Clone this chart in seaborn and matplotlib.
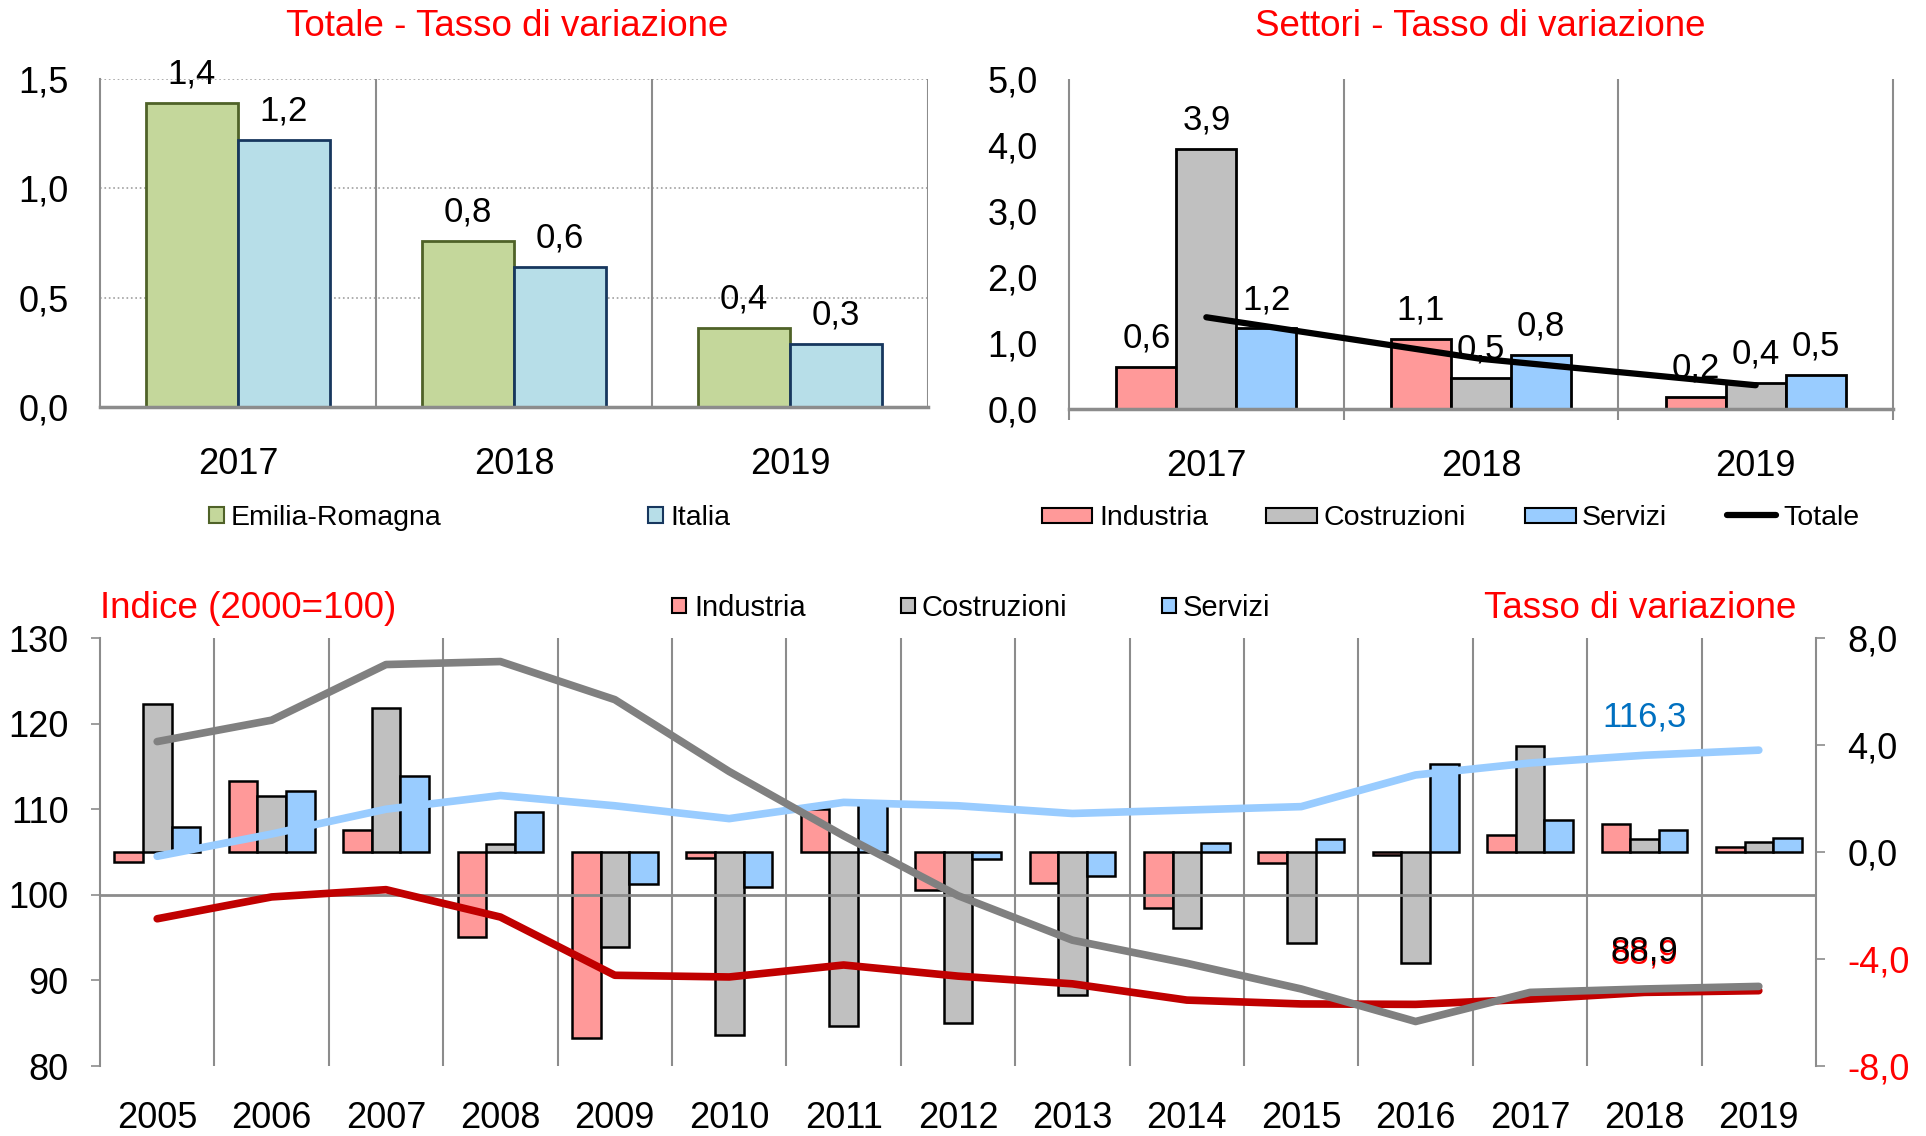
import numpy as np
import pandas as pd
import matplotlib
matplotlib.use('Agg')
import matplotlib.pyplot as plt
from matplotlib.patches import Rectangle
from matplotlib.lines import Line2D
from matplotlib.ticker import FuncFormatter
import seaborn as sns

# ---- dati ----
anni_top = ['2017', '2018', '2019']
totale_er = [1.39, 0.76, 0.36]
totale_it = [1.22, 0.64, 0.29]

sett_industria = [0.64, 1.06, 0.18]
sett_costruzioni = [3.94, 0.47, 0.39]
sett_servizi = [1.22, 0.82, 0.52]

anni = ['2005', '2006', '2007', '2008', '2009', '2010', '2011', '2012',
        '2013', '2014', '2015', '2016', '2017', '2018', '2019']
var_industria = [-0.37, 2.65, 0.83, -3.17, -6.97, -0.24, 1.6, -1.41,
                 -1.17, -2.1, -0.4, -0.1, 0.65, 1.05, 0.2]
var_costruzioni = [5.55, 2.1, 5.4, 0.29, -3.55, -6.84, -6.5, -6.41,
                   -5.33, -2.85, -3.41, -4.15, 3.95, 0.47, 0.37]
var_servizi = [0.93, 2.28, 2.83, 1.49, -1.2, -1.31, 1.8, -0.27,
               -0.88, 0.35, 0.47, 3.29, 1.21, 0.83, 0.53]
ind_industria = [97.2, 99.75, 100.6, 97.4, 90.6, 90.4, 91.8, 90.5,
                 89.6, 87.7, 87.25, 87.2, 87.8, 88.6, 88.8]
ind_costruzioni = [117.9, 120.4, 126.9, 127.25, 122.8, 114.4, 106.9, 99.9,
                   94.7, 92.0, 89.0, 85.2, 88.6, 89.0, 89.3]
ind_servizi = [104.5, 107.1, 110.0, 111.6, 110.4, 108.9, 110.8, 110.4,
               109.5, 109.9, 110.3, 114.0, 115.4, 116.3, 116.9]
etichette_2018 = {'industria': '88,9', 'costruzioni': '88,9', 'servizi': '116,3'}

# ---- stile ----
W, H = 1926, 1136
sns.set_theme(style='white')
plt.rcParams['font.family'] = ['Liberation Sans', 'DejaVu Sans']
plt.rcParams['text.color'] = 'black'

VERDE, VERDE_B = '#C4D79B', '#4F6228'
AZZURRO, AZZURRO_B = '#B7DEE8', '#17375E'
ROSA, GRIGIO_B, CELESTE = '#FF9999', '#C0C0C0', '#99CCFF'
ROSSO_L, GRIGIO_L = '#C00000', '#808080'
ROSSO = '#FF0000'
GRIGIO = '#8C8C8C'
FS_TICK, FS_LAB, FS_LEG, FS_TIT = 26, 25, 20.5, 26.5


def box(x0, y0, x1, y1):
    return [x0 / W, 1 - y1 / H, (x1 - x0) / W, (y1 - y0) / H]


def virgola(v, pos=None):
    return f'{v:.1f}'.replace('.', ',')


def base_y(yc, fs):
    # baseline in pixel per centrare le cifre su yc
    return 1 - (yc + 0.36 * fs * 100 / 72) / H


def voce_box(x0, x1, yc, h, colore, bordo, testo, xt, fs):
    fig.add_artist(Rectangle((x0 / W, 1 - (yc + h / 2) / H), (x1 - x0) / W, h / H,
                             transform=fig.transFigure, facecolor=colore,
                             edgecolor=bordo, lw=1.5))
    fig.text(xt / W, base_y(yc, fs), testo, fontsize=fs, va='baseline')


def voce_linea(x0, x1, yc, colore, testo, xt, fs):
    fig.add_artist(Line2D([x0 / W, x1 / W], [1 - yc / H] * 2, transform=fig.transFigure,
                          color=colore, lw=4.5, solid_capstyle='round'))
    fig.text(xt / W, base_y(yc, fs), testo, fontsize=fs, va='baseline')


def stile_y(ax):
    ax.tick_params(axis='y', which='major', direction='out', length=6.5, width=1.2,
                   color=GRIGIO, labelsize=FS_TICK, pad=16, labelcolor='black')
    ax.tick_params(axis='x', length=0, labelsize=FS_TICK, pad=29, labelcolor='black')


fig = plt.figure(figsize=(W / 100, H / 100), dpi=100)

# ---- 1) Totale - Tasso di variazione ----
ax1 = fig.add_axes(box(100, 79, 928, 407))
df_tot = pd.DataFrame({'anno': anni_top * 2,
                       'valore': totale_er + totale_it,
                       'area': ['Emilia-Romagna'] * 3 + ['Italia'] * 3})
sns.barplot(data=df_tot, x='anno', y='valore', hue='area', order=anni_top,
            palette=[VERDE, AZZURRO], width=0.667, saturation=1, errorbar=None,
            linewidth=2, legend=False, ax=ax1, zorder=3)
for cont, bordo in zip(ax1.containers, [VERDE_B, AZZURRO_B]):
    for bar in cont:
        bar.set_edgecolor(bordo)
        ax1.annotate(virgola(bar.get_height()),
                     (bar.get_x() + bar.get_width() / 2, bar.get_height()),
                     xytext=(0, 14), textcoords='offset points', ha='center',
                     va='baseline', fontsize=FS_LAB, zorder=5)
ax1.set_xlim(-0.5, 2.5)
ax1.set_ylim(0, 1.5)
ax1.set_yticks([0, 0.5, 1.0, 1.5])
ax1.yaxis.set_major_formatter(FuncFormatter(virgola))
ax1.grid(axis='y', linestyle=':', color='#A0A0A0', lw=1.2)
ax1.grid(axis='x', visible=False)
ax1.set_axisbelow(True)
ax1.vlines([0.5, 1.5, 2.5], 0, 1.5, color=GRIGIO, lw=1.5, zorder=1)
for s in ['top', 'right']:
    ax1.spines[s].set_visible(False)
ax1.spines['left'].set_color(GRIGIO)
ax1.spines['left'].set_linewidth(1.5)
ax1.spines['bottom'].set_color(GRIGIO)
ax1.spines['bottom'].set_linewidth(2.5)
ax1.spines['bottom'].set_zorder(4)
stile_y(ax1)
ax1.set_xlabel('')
ax1.set_ylabel('')
fig.text(507 / W, base_y(22.5, FS_TIT), 'Totale - Tasso di variazione', color=ROSSO,
         fontsize=FS_TIT, ha='center', va='baseline')
voce_box(209, 224, 515, 16, VERDE, VERDE_B, 'Emilia-Romagna', 231, FS_LEG)
voce_box(648, 663, 515, 16, AZZURRO, AZZURRO_B, 'Italia', 670, FS_LEG)

# ---- 2) Settori - Tasso di variazione ----
ax2 = fig.add_axes(box(1069, 79, 1893, 409))
df_sett = pd.DataFrame({'anno': anni_top * 3,
                        'valore': sett_industria + sett_costruzioni + sett_servizi,
                        'settore': ['Industria'] * 3 + ['Costruzioni'] * 3 + ['Servizi'] * 3})
sns.barplot(data=df_sett, x='anno', y='valore', hue='settore', order=anni_top,
            palette=[ROSA, GRIGIO_B, CELESTE], width=0.655, saturation=1,
            errorbar=None, edgecolor='black', linewidth=2, legend=False, ax=ax2, zorder=3)
for cont in ax2.containers:
    for bar in cont:
        ax2.annotate(virgola(bar.get_height()),
                     (bar.get_x() + bar.get_width() / 2, bar.get_height()),
                     xytext=(0, 14), textcoords='offset points', ha='center',
                     va='baseline', fontsize=FS_LAB, zorder=5)
sns.lineplot(x=[0, 1, 2], y=totale_er, color='black', lw=4.5, ax=ax2, zorder=4)
ax2.set_xlim(-0.5, 2.5)
ax2.set_ylim(0, 5)
ax2.set_yticks([0, 1, 2, 3, 4, 5])
ax2.yaxis.set_major_formatter(FuncFormatter(virgola))
ax2.set_xticks([0, 1, 2])
ax2.set_xticklabels(anni_top)
ax2.vlines([-0.5, 0.5, 1.5, 2.5], -0.17, 5, color=GRIGIO, lw=1.5, zorder=1, clip_on=False)
for s in ['top', 'right', 'left']:
    ax2.spines[s].set_visible(False)
ax2.spines['bottom'].set_color(GRIGIO)
ax2.spines['bottom'].set_linewidth(2.5)
ax2.spines['bottom'].set_zorder(4)
stile_y(ax2)
ax2.set_xlabel('')
ax2.set_ylabel('')
fig.text(1480 / W, base_y(22.5, FS_TIT), 'Settori - Tasso di variazione', color=ROSSO,
         fontsize=FS_TIT, ha='center', va='baseline')
voce_box(1042, 1092, 515, 15, ROSA, 'black', 'Industria', 1099, FS_LEG)
voce_box(1266, 1317, 515, 15, GRIGIO_B, 'black', 'Costruzioni', 1323, FS_LEG)
voce_box(1525, 1576, 515, 15, CELESTE, 'black', 'Servizi', 1582, FS_LEG)
voce_linea(1727, 1776, 515, 'black', 'Totale', 1783, FS_LEG)

# ---- 3) Indice e tasso di variazione 2005-2019 ----
ax3 = fig.add_axes(box(100, 638, 1816, 1066))
df_var = pd.DataFrame({'anno': anni * 3,
                       'valore': var_industria + var_costruzioni + var_servizi,
                       'settore': ['Industria'] * 15 + ['Costruzioni'] * 15 + ['Servizi'] * 15})
sns.barplot(data=df_var, x='anno', y='valore', hue='settore', order=anni,
            palette=[ROSA, GRIGIO_B, CELESTE], width=0.75, saturation=1,
            errorbar=None, edgecolor='black', linewidth=1.8, legend=False, ax=ax3, zorder=3)
ax3.set_xlim(-0.5, 14.5)
ax3.set_ylim(-8, 8)
ax3.vlines(np.arange(0.5, 14, 1), -8, 8, color=GRIGIO, lw=1.5, zorder=1)
ax3.set_xlabel('')
ax3.set_ylabel('')

ax4 = ax3.twinx()
ax3.yaxis.tick_right()
ax4.yaxis.tick_left()
xs = np.arange(len(anni))
ax4.axhline(100, color=GRIGIO, lw=2, zorder=1)
sns.lineplot(x=xs, y=ind_industria, color=ROSSO_L, lw=5.5, ax=ax4, zorder=3)
sns.lineplot(x=xs, y=ind_servizi, color=CELESTE, lw=5.5, ax=ax4, zorder=3)
sns.lineplot(x=xs, y=ind_costruzioni, color=GRIGIO_L, lw=5.5, ax=ax4, zorder=4)
ax4.set_ylim(80, 130)
ax4.set_yticks([80, 90, 100, 110, 120, 130])
ax4.set_xlim(-0.5, 14.5)
ax4.set_ylabel('')

i18 = anni.index('2018')
ax4.annotate(etichette_2018['industria'], (i18, ind_industria[i18]), xytext=(0, 20.5),
             textcoords='offset points', ha='center', va='baseline',
             fontsize=FS_LAB, color='#FF0000', zorder=6)
ax4.annotate(etichette_2018['costruzioni'], (i18, ind_costruzioni[i18]), xytext=(0, 20.5),
             textcoords='offset points', ha='center', va='baseline',
             fontsize=FS_LAB, color='black', zorder=7)
ax4.annotate(etichette_2018['servizi'], (i18, ind_servizi[i18]), xytext=(0, 20.5),
             textcoords='offset points', ha='center', va='baseline',
             fontsize=FS_LAB, color='#0070C0', zorder=7)

for s in ['top', 'bottom']:
    ax3.spines[s].set_visible(False)
for s in ['left', 'right']:
    ax3.spines[s].set_color(GRIGIO)
    ax3.spines[s].set_linewidth(1.5)
for s in ax4.spines.values():
    s.set_visible(False)

destra = [-8, -4, 0, 4, 8]
ax3.set_yticks(destra)
ax3.set_yticklabels([virgola(v) for v in destra])
for lbl, v in zip(ax3.get_yticklabels(), destra):
    lbl.set_color(ROSSO if v < 0 else 'black')
ax3.tick_params(axis='y', direction='out', length=6.5, width=1.2, color=GRIGIO,
                labelsize=FS_TICK, pad=16)
ax3.tick_params(axis='x', length=0, labelsize=FS_TICK, pad=25.5, labelcolor='black')
ax4.tick_params(axis='y', direction='out', length=6.5, width=1.2, color=GRIGIO,
                labelsize=FS_TICK, pad=16, labelcolor='black')

fig.text(100 / W, base_y(605, FS_TIT), 'Indice (2000=100)', color=ROSSO,
         fontsize=FS_TIT, ha='left', va='baseline')
fig.text(1796 / W, base_y(605, FS_TIT), 'Tasso di variazione', color=ROSSO,
         fontsize=FS_TIT, ha='right', va='baseline')
voce_box(672, 686, 605, 15, ROSA, 'black', 'Industria', 694, 21)
voce_box(901, 915, 605, 15, GRIGIO_B, 'black', 'Costruzioni', 921, 21)
voce_box(1162, 1176, 605, 15, CELESTE, 'black', 'Servizi', 1183, 21)

fig.savefig('out.png', dpi=100)
